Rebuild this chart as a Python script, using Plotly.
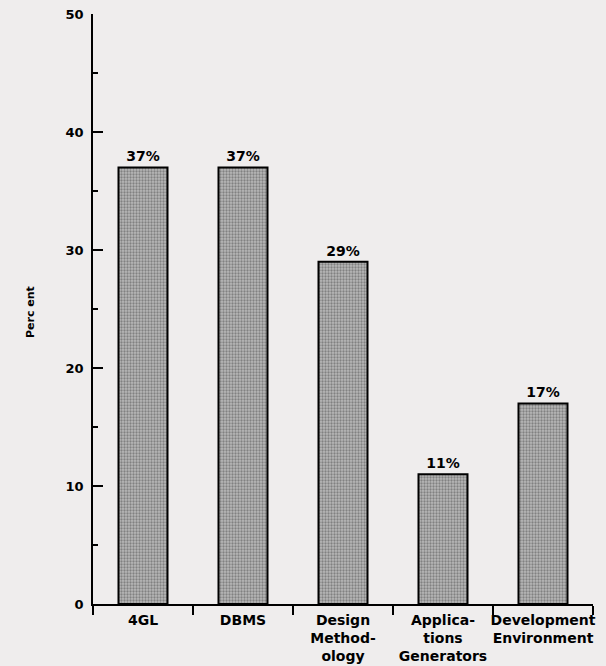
import plotly.graph_objects as go

# Share of respondents using each tool category
categories = ["4GL", "DBMS", "Design<br>Method-<br>ology",
              "Applica-<br>tions<br>Generators", "Development<br>Environment"]
percent = [37, 37, 29, 11, 17]
y_ticks = [0, 10, 20, 30, 40, 50]

FONT = "DejaVu Sans"
BG = "#efeded"
L, R, T, B = 93, 13, 14, 62
W, H = 606, 666

fig = go.Figure(
    go.Bar(
        x=categories,
        y=percent,
        width=0.49,
        marker=dict(
            color="#b0b0b0",
            line=dict(color="black", width=2),
            pattern=dict(shape=".", fgcolor="#4a4a4a", bgcolor="#b8b8b8",
                         size=3, solidity=0.45),
        ),
        text=[f"{v}%" for v in percent],
        textposition="outside",
        textfont=dict(family=FONT, size=14, color="black", weight="bold"),
        cliponaxis=False,
        hoverinfo="skip",
    )
)

fig.update_layout(
    width=W,
    height=H,
    margin=dict(l=L, r=R, t=T, b=B, autoexpand=False),
    paper_bgcolor=BG,
    plot_bgcolor=BG,
    showlegend=False,
    font=dict(family=FONT, color="black", weight="bold"),
    annotations=[
        dict(text="Perc ent", textangle=-90,
             x=(30 - L) / (W - L - R), y=(H - B - 312) / (H - T - B),
             xref="paper", yref="paper", showarrow=False,
             font=dict(family=FONT, size=11, color="black", weight="bold"),
             xanchor="center", yanchor="middle"),
    ],
)

fig.update_xaxes(
    range=[-0.5, 4.5],
    automargin=False,
    tickangle=0,
    showline=True, linecolor="black", linewidth=1.5,
    ticks="outside", ticklen=9, tickwidth=1.5, tickcolor="black",
    tickson="boundaries",
    tickfont=dict(family=FONT, size=14, color="black", weight="bold"),
    ticklabelstandoff=2,
    showgrid=False, zeroline=False,
)
fig.update_yaxes(
    range=[0, 50],
    automargin=False,
    tickvals=y_ticks,
    showline=True, linecolor="black", linewidth=1.5,
    ticks="inside", ticklen=10, tickwidth=1.5, tickcolor="black",
    minor=dict(tickvals=[5, 15, 25, 35, 45], ticks="inside", ticklen=5,
               tickwidth=1.5, tickcolor="black"),
    tickfont=dict(family=FONT, size=13, color="black", weight="bold"),
    ticklabelstandoff=5,
    showgrid=False, zeroline=False,
)

fig.write_html("out.html")
